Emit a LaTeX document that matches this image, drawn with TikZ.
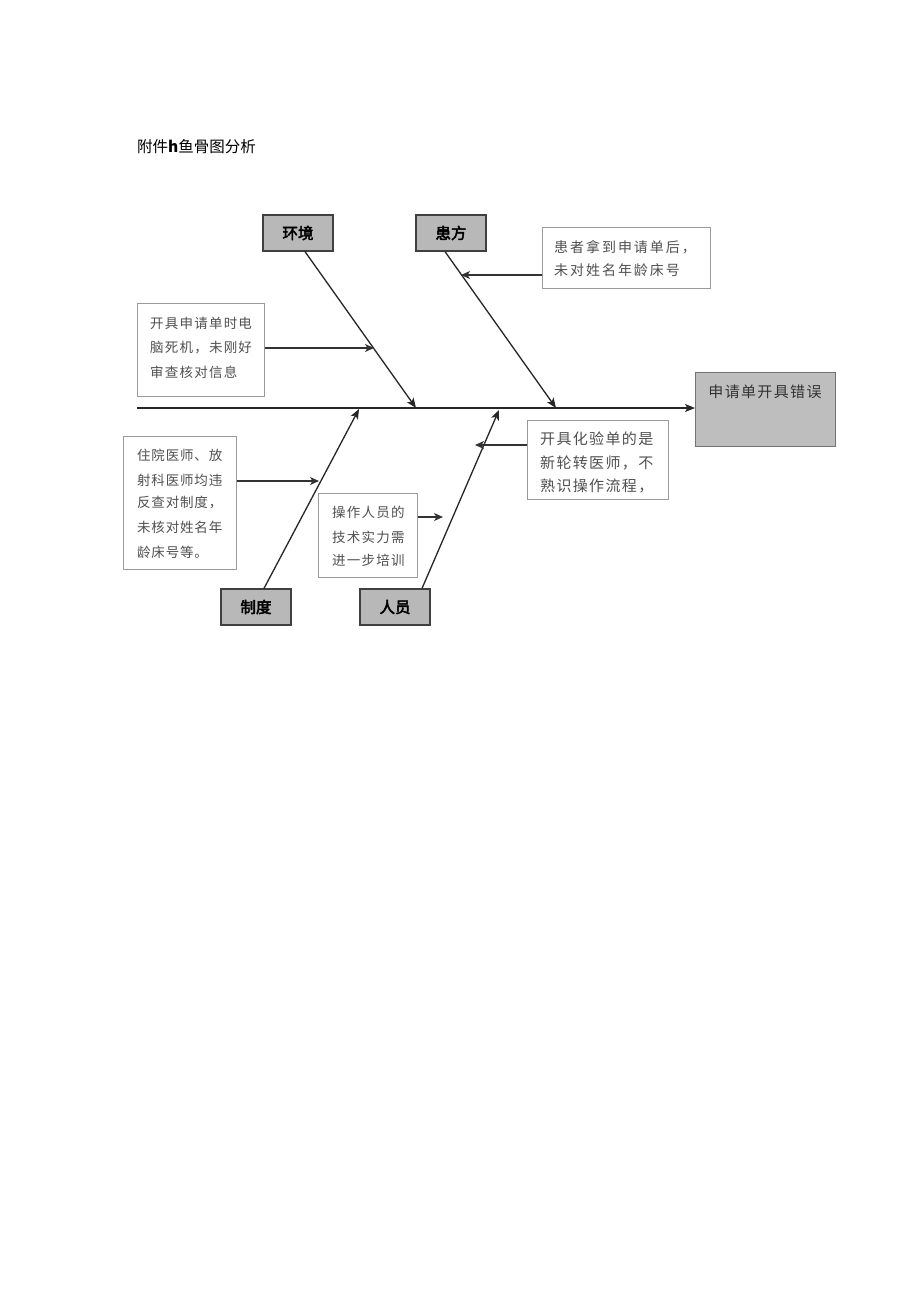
\documentclass[tikz,border=0pt]{standalone}
\usepackage{fontspec}
\newfontfamily\cjk{Noto Sans CJK SC}
\newfontfamily\cjkb{Noto Sans CJK SC}[FakeBold=3]
\newfontfamily\cjks{Noto Sans CJK SC}[LetterSpace=9]
\newfontfamily\cjkw{Noto Sans CJK SC}[LetterSpace=14]
\newfontfamily\cjkn{Noto Sans CJK SC}[LetterSpace=6]
\usetikzlibrary{arrows.meta}
\definecolor{catfill}{HTML}{B8B8B8}
\definecolor{effill}{HTML}{BEBEBE}
\definecolor{notetext}{HTML}{505050}
\definecolor{noteline}{HTML}{9A9A9A}
\begin{document}
\begin{tikzpicture}[x=1pt,y=-1pt,
  cat/.style={draw=black!75,line width=1.2pt,fill=catfill,minimum width=70pt,minimum height=36pt,inner sep=0pt,font=\cjkb\fontsize{15.5}{15.5}\selectfont},
  note/.style={draw=noteline,line width=1.2pt,fill=white,anchor=north west,inner sep=0pt},
  ntext/.style={anchor=west,text=notetext,inner sep=0pt},
  bone/.style={line width=1.3pt,draw=black!85,-{Stealth[length=10pt,width=8pt,inset=2.5pt]}},
  twig/.style={line width=1.2pt,draw=black!80,-{Stealth[length=9pt,width=8pt,inset=2.5pt]}}]
\useasboundingbox (0,0) rectangle (920,1301);
\fill[white] (0,0) rectangle (920,1301);

% title
\node[anchor=west,inner sep=0pt,font=\cjk\fontsize{15.5}{15.5}\selectfont] (title) at (137,147) {附件\textbf{h}鱼骨图分析};

% effect box
\node[draw=black!55,line width=1.2pt,fill=effill,anchor=north west,minimum width=140pt,minimum height=74pt,inner sep=0pt] (effect) at (695,372) {};
\node[anchor=center,inner sep=0pt,text=black!80,font=\cjks\fontsize{15}{15}\selectfont] (efftext) at (765,392) {申请单开具错误};

% spine
\coordinate (tail) at (137,408);
\draw[bone] (tail) -- (effect.west |- tail);

% category boxes
\node[cat] (env) at (298,233) {环境};
\node[cat] (pat) at (451,233) {患方};
\node[cat] (sys) at (256,607) {制度};
\node[cat] (ppl) at (395,607) {人员};

% spine points
\coordinate (s1) at (416,408);
\coordinate (s2) at (556,408);
\coordinate (s3) at (359,409);
\coordinate (s4) at (499,410);

\draw[bone] ([xshift=7pt]env.south) -- (s1);
\draw[bone] ([xshift=-6pt]pat.south) -- (s2);
\draw[bone] ([xshift=8pt]sys.north) -- (s3);
\draw[bone] ([xshift=27pt]ppl.north) -- (s4);

% note: environment
\node[note,minimum width=127pt,minimum height=93pt] (n1) at (137,303) {};
\node[ntext,font=\cjks\fontsize{13.5}{13.5}\selectfont] (n1a) at (150,323) {开具申请单时电};
\node[ntext,font=\cjks\fontsize{13.5}{13.5}\selectfont] (n1b) at (150,348) {脑死机，未刚好};
\node[ntext,font=\cjks\fontsize{13.5}{13.5}\selectfont] (n1c) at (150,372) {审查核对信息};
\coordinate (t1) at (374,348);
\draw[twig] (n1.east |- t1) -- (t1);

% note: patient
\node[note,minimum width=168pt,minimum height=61pt] (n2) at (542,227) {};
\node[ntext,font=\cjkw\fontsize{14}{14}\selectfont] (n2a) at (554,247) {患者拿到申请单后，};
\node[ntext,font=\cjkw\fontsize{14}{14}\selectfont] (n2b) at (554,270) {未对姓名年龄床号};
\coordinate (t2) at (461,275);
\draw[twig] (n2.west |- t2) -- (t2);

% note: system
\node[note,minimum width=113pt,minimum height=133pt] (n3) at (123,436) {};
\node[ntext,font=\cjkn\fontsize{13.5}{13.5}\selectfont] (n3a) at (137,455) {住院医师、放};
\node[ntext,font=\cjkn\fontsize{13.5}{13.5}\selectfont] (n3b) at (137,480) {射科医师均违};
\node[ntext,font=\cjkn\fontsize{13.5}{13.5}\selectfont] (n3c) at (137,503) {反查对制度，};
\node[ntext,font=\cjkn\fontsize{13.5}{13.5}\selectfont] (n3d) at (137,527) {未核对姓名年};
\node[ntext,font=\cjkn\fontsize{13.5}{13.5}\selectfont] (n3e) at (137,552) {龄床号等。};
\coordinate (t3) at (319,481);
\draw[twig] (n3.east |- t3) -- (t3);

% note: people (left)
\node[note,minimum width=99pt,minimum height=84pt] (n4) at (318,493) {};
\node[ntext,font=\cjks\fontsize{13.5}{13.5}\selectfont] (n4a) at (332,512) {操作人员的};
\node[ntext,font=\cjks\fontsize{13.5}{13.5}\selectfont] (n4b) at (332,537) {技术实力需};
\node[ntext,font=\cjks\fontsize{13.5}{13.5}\selectfont] (n4c) at (332,560) {进一步培训};
\coordinate (t4) at (443,517);
\draw[twig] (n4.east |- t4) -- (t4);

% note: people (right)
\node[note,minimum width=141pt,minimum height=79pt] (n5) at (527,420) {};
\node[ntext,font=\cjks\fontsize{15}{15}\selectfont] (n5a) at (540,439) {开具化验单的是};
\node[ntext,font=\cjks\fontsize{15}{15}\selectfont] (n5b) at (540,463) {新轮转医师，不};
\node[ntext,font=\cjks\fontsize{15}{15}\selectfont] (n5c) at (540,486) {熟识操作流程，};
\coordinate (t5) at (475,445);
\draw[twig] (n5.west |- t5) -- (t5);
\end{tikzpicture}
\end{document}
